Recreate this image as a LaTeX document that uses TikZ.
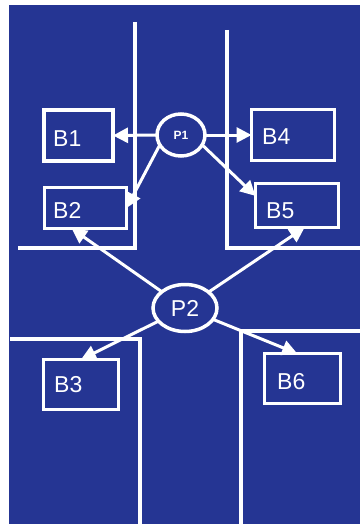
\documentclass[tikz,border=0pt]{standalone}
\usepackage{fontspec}
\setmainfont{Liberation Sans}
\usetikzlibrary{arrows.meta,shapes.geometric}
\definecolor{bg}{RGB}{37,53,147}
\begin{document}
\begin{tikzpicture}[x=1pt,y=-1pt,
  wall/.style={white,line width=3.5pt},
  box/.style={draw=white,line width=3.5pt,rectangle,inner sep=0pt,outer sep=0pt},
  lbl/.style={white,font=\fontsize{23}{23}\selectfont,anchor=west,inner sep=0pt},
  place/.style={draw=white,line width=3.5pt,ellipse,inner sep=0pt,outer sep=0pt,text=white},
  arr/.style={white,line width=3pt,-{Triangle[length=15pt,width=15pt]}}]
\useasboundingbox (0,0) rectangle (360,524);
\fill[bg] (9,5) rectangle (360,524);
% walls
\draw[wall] (135,22) -- (135,248) -- (18,248);
\draw[wall] (227,30) -- (227,248) -- (360,248);
\draw[wall] (10,339) -- (140,339) -- (140,524);
\draw[wall] (360,331) -- (241,331) -- (241,524);
% boxes
\node[box,minimum width=69pt,minimum height=51pt] (b1) at (78.5,135.5) {};
\node[box,minimum width=82pt,minimum height=41pt] (b2) at (85.5,208) {};
\node[box,minimum width=83pt,minimum height=51pt] (b4) at (293,135) {};
\node[box,minimum width=83pt,minimum height=44pt] (b5) at (297,205.5) {};
\node[box,minimum width=75pt,minimum height=50pt] (b3) at (81,384.5) {};
\node[box,minimum width=76pt,minimum height=50pt] (b6) at (302.5,378.5) {};
\node[lbl] (t1) at (53,139) {B1};
\node[lbl] (t2) at (53,210) {B2};
\node[lbl] (t4) at (262,137) {B4};
\node[lbl] (t5) at (266,211) {B5};
\node[lbl] (t3) at (54,385) {B3};
\node[lbl] (t6) at (277,382) {B6};
% places
\node[place,minimum width=48pt,minimum height=42pt,font=\bfseries\fontsize{12}{12}\selectfont] (p1) at (181,135) {\raisebox{-4pt}{P1}};
\node[place,minimum width=64pt,minimum height=47pt,font=\fontsize{23}{23}\selectfont] (p2) at (185,308) {\raisebox{-3pt}{P2}};
% arrows
\draw[arr] (p1.west) -- (b1.east);
\draw[arr] (p1.205) -- (b2.east);
\draw[arr] (p1.east) -- (b4.west);
\draw[arr] (p1.-25) -- (b5.167);
\draw[arr] (p2) -- (b2.236);
\draw[arr] (p2) -- (b5.289);
\draw[arr] (p2) -- (b3.north);
\draw[arr] (p2) -- (b6.102);
\end{tikzpicture}
\end{document}
